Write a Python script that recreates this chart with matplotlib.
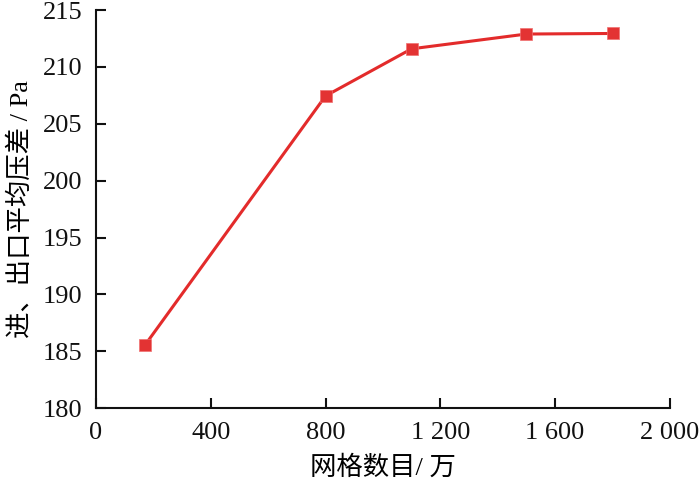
import matplotlib
matplotlib.use('Agg')
import matplotlib.pyplot as plt
from matplotlib.ticker import FuncFormatter

plt.rcParams['font.family'] = ['Liberation Serif', 'Noto Sans CJK SC']

# 网格数目(万) 与 进、出口平均压差(Pa)
wanggeshu = [170, 800, 1100, 1500, 1800]
yacha = [185.5, 207.45, 211.6, 212.9, 212.95]

x_ticks = [0, 400, 800, 1200, 1600, 2000]
y_ticks = [180, 185, 190, 195, 200, 205, 210, 215]


def miles(v, pos):
    # separar miles con espacio, como en la figura original
    s = '{:,.0f}'.format(v)
    return s.replace(',', ' ')


fig = plt.figure(figsize=(7, 4.84), dpi=100)
ax = fig.add_axes([0.137, 0.157, 0.82, 0.822])

ax.plot(wanggeshu, yacha, color='#e32b2b', linewidth=2.2, marker='s',
        markersize=9, markerfacecolor='#e33333', markeredgecolor='#f07070',
        markeredgewidth=0.5)

ax.set_xlim(0, 2000)
ax.set_ylim(180, 215)
ax.set_xticks(x_ticks)
ax.set_yticks(y_ticks)
ax.xaxis.set_major_formatter(FuncFormatter(miles))

for lado in ['top', 'right']:
    ax.spines[lado].set_visible(False)
for lado in ['left', 'bottom']:
    ax.spines[lado].set_linewidth(1.5)
    ax.spines[lado].set_color('#111111')

ax.tick_params(direction='in', length=7, width=1.5, labelsize=19, pad=10,
               color='#111111', labelcolor='#111111')

ax.set_xlabel('网格数目/ 万', fontsize=19)
ax.xaxis.set_label_coords(0.5, -0.12)
ax.set_ylabel('进、出口平均压差 / Pa', fontsize=19)
ax.yaxis.set_label_coords(-0.11, 0.5)

plt.savefig('out.png', dpi=100)
